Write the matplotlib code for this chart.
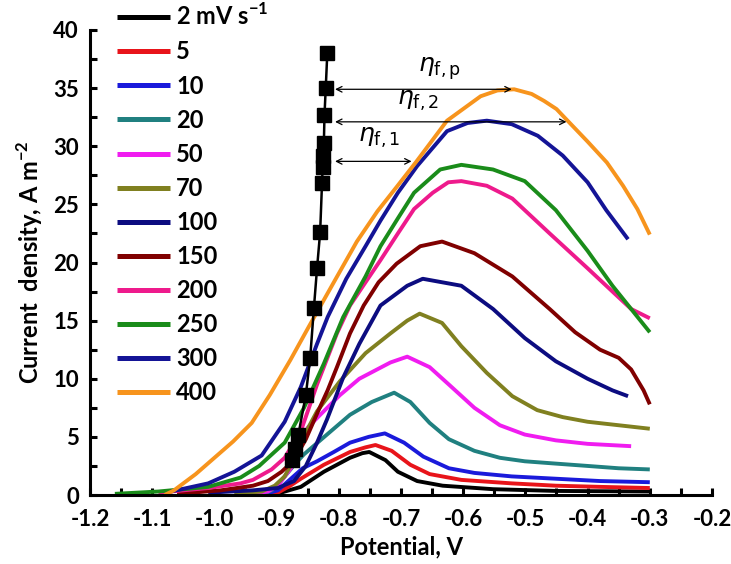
import matplotlib
matplotlib.use("Agg")
import matplotlib.pyplot as plt
from matplotlib.ticker import MultipleLocator

plt.rcParams['font.family'] = ['Lato', 'DejaVu Sans']
plt.rcParams['mathtext.fontset'] = 'dejavusans'

labels = ['2 mV s$^{\\mathregular{-1}}$', '5', '10', '20', '50', '70', '100', '150', '200', '250', '300', '400']
colors = ['#000000', '#e8141a', '#1a1adb', '#208080', '#f01cf0', '#808020', '#0c0c80',
          '#800000', '#ee1a8c', '#1a8c1a', '#141496', '#f7941d']

x2 = [-0.908, -0.893, -0.861, -0.824, -0.782, -0.762, -0.751, -0.725, -0.705, -0.674, -0.633, -0.552, -0.451, -0.30]
y2 = [0.0, 0.2, 0.7, 2.0, 3.2, 3.6, 3.7, 3.0, 2.0, 1.2, 0.8, 0.5, 0.35, 0.3]

x5 = [-0.913, -0.898, -0.878, -0.861, -0.824, -0.782, -0.757, -0.741, -0.715, -0.685, -0.654, -0.603, -0.522, -0.451, -0.38, -0.30]
y5 = [0.05, 0.2, 0.8, 1.4, 2.6, 3.7, 4.1, 4.3, 3.8, 2.6, 1.8, 1.3, 1.0, 0.8, 0.7, 0.6]

x10 = [-0.918, -0.898, -0.877, -0.858, -0.835, -0.808, -0.782, -0.752, -0.726, -0.695, -0.664, -0.623, -0.582, -0.522, -0.451, -0.38, -0.30]
y10 = [0.1, 0.4, 1.4, 2.3, 2.9, 3.7, 4.5, 5.0, 5.3, 4.5, 3.3, 2.3, 1.9, 1.6, 1.4, 1.2, 1.1]

x20 = [-0.923, -0.908, -0.893, -0.873, -0.856, -0.819, -0.782, -0.747, -0.711, -0.685, -0.654, -0.623, -0.582, -0.541, -0.501, -0.451, -0.40, -0.35, -0.30]
y20 = [0.1, 0.4, 1.2, 2.5, 3.5, 5.2, 6.9, 8.0, 8.8, 8.0, 6.2, 4.8, 3.8, 3.2, 2.9, 2.7, 2.5, 2.3, 2.2]

x50 = [-0.938, -0.914, -0.898, -0.877, -0.863, -0.850, -0.828, -0.798, -0.767, -0.717, -0.690, -0.654, -0.623, -0.582, -0.541, -0.501, -0.451, -0.40, -0.33]
y50 = [0.1, 0.3, 0.8, 2.3, 4.3, 5.8, 7.0, 8.6, 10.0, 11.4, 11.9, 11.0, 9.5, 7.5, 6.0, 5.2, 4.7, 4.4, 4.2]

x70 = [-0.968, -0.924, -0.903, -0.887, -0.873, -0.861, -0.835, -0.798, -0.757, -0.717, -0.690, -0.670, -0.634, -0.603, -0.562, -0.521, -0.481, -0.44, -0.40, -0.35, -0.30]
y70 = [0.1, 0.3, 0.8, 1.6, 3.0, 4.6, 7.2, 9.8, 12.2, 13.9, 15.0, 15.6, 14.8, 12.8, 10.5, 8.5, 7.3, 6.7, 6.3, 6.0, 5.7]

x100 = [-1.01, -0.938, -0.898, -0.872, -0.853, -0.835, -0.819, -0.793, -0.767, -0.733, -0.690, -0.665, -0.603, -0.552, -0.501, -0.451, -0.40, -0.36, -0.335]
y100 = [0.2, 0.4, 0.6, 1.2, 2.5, 4.5, 6.5, 10.1, 13.0, 16.3, 18.0, 18.6, 18.0, 16.0, 13.5, 11.5, 10.0, 9.0, 8.5]

x150 = [-1.06, -0.99, -0.938, -0.914, -0.892, -0.872, -0.853, -0.835, -0.818, -0.803, -0.782, -0.760, -0.736, -0.707, -0.669, -0.634, -0.582, -0.521, -0.461, -0.42, -0.38, -0.35, -0.33, -0.31, -0.30]
y150 = [0.1, 0.4, 0.8, 1.2, 2.0, 3.0, 4.8, 7.0, 9.0, 11.0, 13.9, 16.3, 18.3, 19.9, 21.4, 21.8, 20.8, 18.8, 16.0, 14.0, 12.5, 11.8, 10.8, 9.0, 7.8]

x200 = [-1.09, -1.01, -0.958, -0.938, -0.908, -0.887, -0.861, -0.835, -0.803, -0.782, -0.757, -0.733, -0.705, -0.679, -0.649, -0.624, -0.603, -0.562, -0.521, -0.461, -0.40, -0.36, -0.33, -0.30]
y200 = [0.2, 0.6, 1.0, 1.3, 2.2, 3.2, 5.5, 9.5, 13.9, 16.3, 18.3, 20.2, 22.5, 24.6, 26.0, 26.9, 27.0, 26.6, 25.5, 22.5, 19.5, 17.5, 16.0, 15.2]

x250 = [-1.16, -1.09, -1.01, -0.958, -0.928, -0.887, -0.856, -0.824, -0.793, -0.757, -0.733, -0.705, -0.679, -0.637, -0.603, -0.552, -0.501, -0.451, -0.40, -0.36, -0.33, -0.30]
y250 = [0.1, 0.3, 0.7, 1.5, 2.5, 4.5, 7.5, 11.3, 15.3, 18.8, 21.4, 23.8, 26.0, 28.0, 28.4, 28.0, 27.0, 24.5, 21.0, 18.0, 16.0, 14.0]

x300 = [-1.07, -1.01, -0.968, -0.924, -0.887, -0.861, -0.835, -0.818, -0.788, -0.757, -0.733, -0.705, -0.674, -0.626, -0.593, -0.562, -0.522, -0.48, -0.44, -0.40, -0.37, -0.335]
y300 = [0.3, 1.0, 2.0, 3.4, 6.3, 9.3, 13.0, 15.3, 18.6, 21.4, 23.6, 26.0, 28.3, 31.3, 32.0, 32.2, 31.9, 30.9, 29.2, 26.9, 24.5, 22.0]

x400 = [-1.08, -1.065, -1.03, -1.0, -0.97, -0.94, -0.911, -0.878, -0.848, -0.808, -0.771, -0.738, -0.707, -0.675, -0.626, -0.572, -0.545, -0.518, -0.49, -0.47, -0.45, -0.434, -0.40, -0.369, -0.343, -0.32, -0.30]
y400 = [0.0, 0.4, 1.8, 3.2, 4.6, 6.2, 8.6, 11.6, 14.5, 18.3, 21.8, 24.4, 26.5, 28.7, 32.2, 34.3, 34.8, 34.9, 34.5, 33.9, 33.2, 32.3, 30.4, 28.6, 26.6, 24.6, 22.4]

xs = [x2, x5, x10, x20, x50, x70, x100, x150, x200, x250, x300, x400]
ys = [y2, y5, y10, y20, y50, y70, y100, y150, y200, y250, y300, y400]

sq_x = [-0.876, -0.870, -0.865, -0.853, -0.846, -0.840, -0.835, -0.830, -0.827, -0.826, -0.825, -0.824, -0.823, -0.821, -0.8185]
sq_y = [3.0, 4.0, 5.2, 8.6, 11.8, 16.1, 19.5, 22.6, 26.8, 28.2, 29.2, 30.3, 32.7, 35.0, 38.0]

arrow_y = [28.7, 32.1, 34.9]
arrow_x0 = [-0.806, -0.806, -0.806]
arrow_x1 = [-0.683, -0.434, -0.522]
eta_labels = ['$\\eta_{\\mathrm{f,1}}$', '$\\eta_{\\mathrm{f,2}}$', '$\\eta_{\\mathrm{f,p}}$']
eta_x = [-0.769, -0.706, -0.673]
eta_y = [30.4, 33.6, 36.4]

fig = plt.figure(figsize=(7.31, 5.64), dpi=100)
ax = fig.add_axes([90/731, 1-495/564, (712-90)/731, (495-30)/564])

for xv, yv, c, lab in zip(xs, ys, colors, labels):
    ax.plot(xv, yv, color=c, lw=2.8, label=lab, solid_capstyle='butt', solid_joinstyle='round')

ax.plot(sq_x, sq_y, color='black', lw=1.8, marker='s', markersize=10, zorder=5)

for y, a, b in zip(arrow_y, arrow_x0, arrow_x1):
    ax.annotate('', xy=(b, y), xytext=(a, y),
                arrowprops=dict(arrowstyle='<->', lw=0.9, color='black',
                                shrinkA=0, shrinkB=0, mutation_scale=10), zorder=6)
for t, x, y in zip(eta_labels, eta_x, eta_y):
    ax.text(x, y, t, fontsize=18, va='baseline', ha='left')

ax.set_xlim(-1.2, -0.2)
ax.set_ylim(0, 40)
ax.xaxis.set_minor_locator(MultipleLocator(0.05))
ax.yaxis.set_minor_locator(MultipleLocator(2.5))
ax.set_xticks([-1.2, -1.1, -1.0, -0.9, -0.8, -0.7, -0.6, -0.5, -0.4, -0.3, -0.2])
ax.set_xticklabels(['-1.2', '-1.1', '-1.0', '-0.9', '-0.8', '-0.7', '-0.6', '-0.5', '-0.4', '-0.3', '-0.2'])
ax.set_yticks([0, 5, 10, 15, 20, 25, 30, 35, 40])
ax.set_yticklabels(['0', '5', '10', '15', '20', '25', '30', '35', '40'])

for s in ['top', 'right']:
    ax.spines[s].set_visible(False)
for s in ['left', 'bottom']:
    ax.spines[s].set_linewidth(2.2)
ax.tick_params(which='both', direction='in', width=2.2, length=5)
ax.tick_params(axis='x', which='major', labelsize=16, pad=10)
ax.tick_params(axis='y', which='major', labelsize=16, pad=8)
for lab in ax.get_xticklabels() + ax.get_yticklabels():
    lab.set_fontweight('bold')

ax.set_xlabel('Potential, V', fontsize=17, fontweight='bold', labelpad=4)
ax.set_ylabel('Current  density, A m$^{\\mathregular{-2}}$', fontsize=17, fontweight='bold', labelpad=6)

leg = ax.legend(loc='upper left', bbox_to_anchor=(117/731, 1-3/564), bbox_transform=fig.transFigure,
                frameon=False, handlelength=2.25, handletextpad=0.25,
                labelspacing=0.47, borderpad=0, borderaxespad=0, prop={'weight': 'bold', 'size': 17})
for line in leg.get_lines():
    line.set_linewidth(3.6)

fig.savefig('out.png', dpi=100)
